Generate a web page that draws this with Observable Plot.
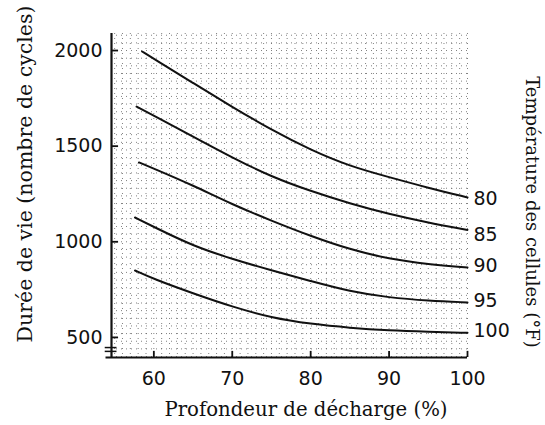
<!DOCTYPE html>
<html>
<head>
<meta charset="utf-8">
<script src="https://cdn.jsdelivr.net/npm/d3@7"></script>
<script src="https://cdn.jsdelivr.net/npm/@observablehq/plot@0.6"></script>
<style>
  html, body { margin: 0; padding: 0; background: #fff; }
  #chart { width: 545px; height: 425px; }
</style>
</head>
<body>
<div id="chart"></div>
<script>
// Depth of discharge (%) and cycle life for each cell temperature (°F)
const temperatures = ["80", "85", "90", "95", "100"];
const depth80 = [58.5, 60, 65, 70, 75, 80, 85, 90, 95, 100];
const life80  = [1995, 1957, 1830, 1705, 1585, 1480, 1395, 1338, 1282, 1232];
const depth85 = [57.8, 60, 65, 70, 75, 80, 85, 90, 95, 100];
const life85  = [1707, 1660, 1550, 1440, 1340, 1265, 1200, 1145, 1100, 1062];
const depth90 = [58.1, 60, 65, 70, 75, 80, 85, 90, 95, 100];
const life90  = [1415, 1383, 1295, 1195, 1110, 1030, 960, 910, 882, 866];
const depth95 = [57.6, 60, 65, 70, 75, 80, 85, 90, 95, 100];
const life95  = [1127, 1078, 978, 910, 850, 795, 740, 708, 692, 683];
const depth100 = [57.6, 60, 65, 70, 75, 80, 85, 90, 95, 100];
const life100  = [850, 805, 730, 660, 603, 570, 550, 537, 530, 524];
const labelLife = [1226, 1035, 876, 693, 536];

const xTicks = [60, 70, 80, 90, 100];
const yTicks = [500, 1000, 1500, 2000];
const xTitle = "Profondeur de décharge (%)";
const yTitle = "Durée de vie (nombre de cycles)";
const rTitle = "Température des cellules (°F)";

const xDomain = [54.6, 100];
const yDomain = [395, 2089];

const seriesDepth = [depth80, depth85, depth90, depth95, depth100];
const seriesLife = [life80, life85, life90, life95, life100];
const rows = [];
temperatures.forEach((t, i) => {
  seriesDepth[i].forEach((d, j) => rows.push({temp: t, depth: d, life: seriesLife[i][j]}));
});
const labels = temperatures.map((t, i) => ({temp: t, depth: 100, life: labelLife[i]}));

const gridX = d3.range(55, 100.01, 1);
const gridY = d3.range(400, 2089, 40);

const plot = Plot.plot({
  width: 545,
  height: 425,
  marginLeft: 111,
  marginRight: 78,
  marginTop: 33,
  marginBottom: 68,
  x: {domain: xDomain},
  y: {domain: yDomain},
  style: {background: "#fff", color: "#111"},
  marks: [
    Plot.ruleX(gridX, {stroke: "#555", strokeWidth: 1, strokeDasharray: "1,4", strokeOpacity: 0.75}),
    Plot.ruleY(gridY, {stroke: "#555", strokeWidth: 1, strokeDasharray: "1,4", strokeOpacity: 0.75}),
    Plot.line(rows, {x: "depth", y: "life", z: "temp", stroke: "#111", strokeWidth: 2, curve: "basis"}),
    Plot.ruleX([xDomain[0]], {stroke: "#111", strokeWidth: 2.2}),
    Plot.ruleY([yDomain[0]], {stroke: "#111", strokeWidth: 2.2, x1: 53.9, x2: 100}),
    Plot.ruleY([447, 427], {x1: 53.8, x2: 55.3, stroke: "#111", strokeWidth: 1.5}),
    Plot.ruleY(yTicks, {x1: xDomain[0], x2: xDomain[0] + 0.9, stroke: "#111", strokeWidth: 1.8}),
    Plot.ruleX(xTicks, {y1: yDomain[0], y2: yDomain[0] + 32, stroke: "#111", strokeWidth: 1.8}),
    Plot.axisY({ticks: yTicks, tickFormat: d => String(d), tickSize: 0, tickPadding: 9, label: null, fontSize: 19, fontFamily: "DejaVu Sans"}),
    Plot.axisX({ticks: xTicks, tickFormat: d => String(d), tickSize: 0, tickPadding: 14, label: null, fontSize: 19, fontFamily: "DejaVu Sans"}),
    Plot.text(labels, {x: "depth", y: "life", text: "temp", textAnchor: "start", dx: 6, fontSize: 19, fontFamily: "DejaVu Sans", fill: "#111"})
  ]
});
plot.style.fontFamily = "DejaVu Sans";
document.getElementById("chart").appendChild(plot);

const svg = d3.select(plot);
svg.append("text")
  .attr("transform", "translate(32,174) rotate(-90)")
  .attr("text-anchor", "middle")
  .attr("font-family", "DejaVu Serif")
  .attr("font-size", 20.5)
  .attr("fill", "#111")
  .text(yTitle);
svg.append("text")
  .attr("x", 306)
  .attr("y", 416)
  .attr("text-anchor", "middle")
  .attr("font-family", "DejaVu Serif")
  .attr("font-size", 19.7)
  .attr("fill", "#111")
  .text(xTitle);
svg.append("text")
  .attr("transform", "translate(526,212) rotate(90)")
  .attr("text-anchor", "middle")
  .attr("font-family", "DejaVu Serif")
  .attr("font-size", 18)
  .attr("fill", "#111")
  .text(rTitle);
</script>
</body>
</html>
